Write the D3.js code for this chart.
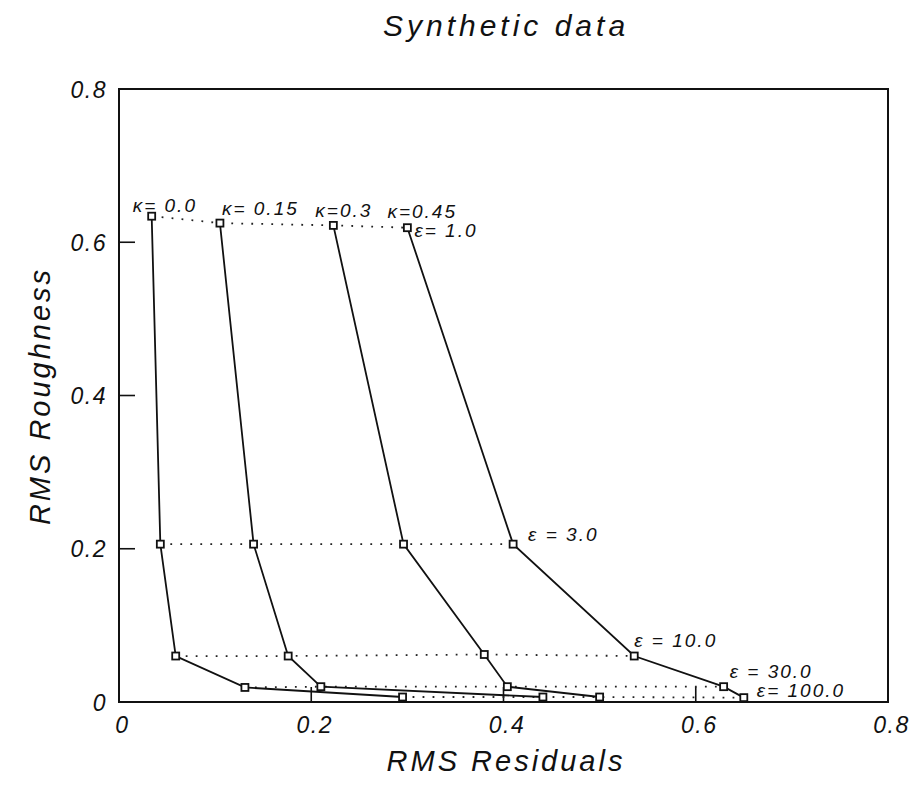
<!DOCTYPE html>
<html>
<head>
<meta charset="utf-8">
<script src="https://cdn.jsdelivr.net/npm/d3@7"></script>
<style>
  body { margin: 0; background: #fff; }
  text { font-family: "Liberation Sans", Arial, sans-serif; font-style: italic; fill: #111; }
</style>
</head>
<body>
<svg id="chart" width="913" height="786"></svg>
<script>
// values
const kappaValues = [0.0, 0.15, 0.3, 0.45];
const epsilonValues = [1, 3, 10, 30, 100];

const rmsResidualsK000 = [0.034, 0.043, 0.059, 0.131, 0.295];
const rmsRoughnessK000 = [0.634, 0.206, 0.060, 0.019, 0.0065];
const rmsResidualsK015 = [0.105, 0.140, 0.176, 0.210, 0.441];
const rmsRoughnessK015 = [0.625, 0.206, 0.060, 0.020, 0.0065];
const rmsResidualsK030 = [0.223, 0.296, 0.380, 0.404, 0.500];
const rmsRoughnessK030 = [0.622, 0.206, 0.062, 0.020, 0.0065];
const rmsResidualsK045 = [0.300, 0.410, 0.536, 0.629, 0.650];
const rmsRoughnessK045 = [0.619, 0.206, 0.060, 0.020, 0.0057];

const kappaLabels = ['\u03ba= 0.0', '\u03ba= 0.15', '\u03ba=0.3', '\u03ba=0.45'];
const epsilonLabels = ['\u03b5= 1.0', '\u03b5 = 3.0', '\u03b5 = 10.0', '\u03b5 = 30.0', '\u03b5= 100.0'];

const xTicks = [0, 0.2, 0.4, 0.6, 0.8];
const yTicks = [0, 0.2, 0.4, 0.6, 0.8];

const titleText = 'Synthetic data';
const xLabelText = 'RMS Residuals';
const yLabelText = 'RMS Roughness';

function BuildCurves() {
  var residuals = [rmsResidualsK000, rmsResidualsK015, rmsResidualsK030, rmsResidualsK045];
  var roughness = [rmsRoughnessK000, rmsRoughnessK015, rmsRoughnessK030, rmsRoughnessK045];

  return kappaValues.map(function(kappa, k) {
    return {
      kappa: kappa,
      points: epsilonValues.map(function(eps, e) {
        return { eps: eps, x: residuals[k][e], y: roughness[k][e] };
      })
    };
  });
}

function FormatTick(d) {
  return d === 0 ? '0' : d3.format('.1f')(d);
}

var curves = BuildCurves();

var width = 913, height = 786;
var margin = { top: 89, right: 25, bottom: 84, left: 119 };

var svg = d3.select('#chart');

var x = d3.scaleLinear().domain([0, 0.8]).range([margin.left, width - margin.right]);
var y = d3.scaleLinear().domain([0, 0.8]).range([height - margin.bottom, margin.top]);

// frame
svg.append('rect')
    .attr('x', x(0))
    .attr('y', y(0.8))
    .attr('width', x(0.8) - x(0))
    .attr('height', y(0) - y(0.8))
    .attr('fill', 'none')
    .attr('stroke', '#111')
    .attr('stroke-width', 2);

// inward ticks on bottom and left, labels outside
var xAxis = d3.axisBottom(x).tickValues(xTicks).tickSize(0).tickPadding(0).tickFormat(FormatTick);
var gx = svg.append('g')
    .attr('transform', 'translate(0,' + y(0) + ')')
    .call(xAxis);
gx.select('.domain').remove();
gx.selectAll('.tick text')
    .attr('dy', null)
    .attr('y', 31)
    .attr('x', 3)
    .style('font-size', '23px')
    .style('font-family', '"Liberation Sans", Arial, sans-serif')
    .style('letter-spacing', '1.5px');

var yAxis = d3.axisLeft(y).tickValues(yTicks).tickSize(0).tickPadding(0).tickFormat(FormatTick);
var gy = svg.append('g')
    .attr('transform', 'translate(' + x(0) + ',0)')
    .call(yAxis);
gy.select('.domain').remove();
gy.selectAll('.tick text')
    .attr('dy', '0.35em')
    .attr('x', -12)
    .style('font-size', '23px')
    .style('font-family', '"Liberation Sans", Arial, sans-serif')
    .style('letter-spacing', '1.5px');

svg.append('g')
  .selectAll('line')
  .data(xTicks.filter((d) => d > 0 && d < 0.8))
  .join('line')
    .attr('x1', (d) => x(d))
    .attr('x2', (d) => x(d))
    .attr('y1', y(0))
    .attr('y2', y(0) - 15)
    .attr('stroke', '#111')
    .attr('stroke-width', 1.6);

svg.append('g')
  .selectAll('line')
  .data(yTicks.filter((d) => d > 0 && d < 0.8))
  .join('line')
    .attr('x1', x(0))
    .attr('x2', x(0) + 16)
    .attr('y1', (d) => y(d))
    .attr('y2', (d) => y(d))
    .attr('stroke', '#111')
    .attr('stroke-width', 1.6);

var line = d3.line()
    .x((d) => x(d.x))
    .y((d) => y(d.y));

// dotted lines joining equal epsilon across kappa
var epsRows = epsilonValues.map(function(eps, e) {
  return curves.map((c) => c.points[e]);
});

svg.append('g')
  .selectAll('path')
  .data(epsRows)
  .join('path')
    .attr('d', line)
    .attr('fill', 'none')
    .attr('stroke', '#222')
    .attr('stroke-width', 1.8)
    .attr('stroke-dasharray', '1.8,8.2');

// solid curves per kappa
svg.append('g')
  .selectAll('path')
  .data(curves)
  .join('path')
    .attr('d', (d) => line(d.points))
    .attr('fill', 'none')
    .attr('stroke', '#111')
    .attr('stroke-width', 1.8);

// square markers
var sq = 7;
svg.append('g')
  .selectAll('g')
  .data(curves)
  .join('g')
  .selectAll('rect')
  .data((d) => d.points)
  .join('rect')
    .attr('x', (d) => x(d.x) - sq / 2)
    .attr('y', (d) => y(d.y) - sq / 2)
    .attr('width', sq)
    .attr('height', sq)
    .attr('fill', '#fff')
    .attr('stroke', '#111')
    .attr('stroke-width', 1.8);

// kappa labels above the first point of each curve
var kappaOffsets = [[-19, -4], [2, -8], [-18, -8], [-20, -10]];
svg.append('g')
  .selectAll('text')
  .data(curves)
  .join('text')
    .attr('x', (d, i) => x(d.points[0].x) + kappaOffsets[i][0])
    .attr('y', (d, i) => y(d.points[0].y) + kappaOffsets[i][1])
    .style('font-size', '19px')
    .style('letter-spacing', '2px')
    .text((d, i) => kappaLabels[i]);

// epsilon labels beside the last curve
var lastCurve = curves[curves.length - 1];
var epsOffsets = [[7, 9], [15, -3], [0, -9], [6, -9], [13, -1]];
svg.append('g')
  .selectAll('text')
  .data(lastCurve.points)
  .join('text')
    .attr('x', (d, i) => x(d.x) + epsOffsets[i][0])
    .attr('y', (d, i) => y(d.y) + epsOffsets[i][1])
    .style('font-size', '19px')
    .style('letter-spacing', '2px')
    .text((d, i) => epsilonLabels[i]);

// titles
svg.append('text')
    .attr('x', 506)
    .attr('y', 36)
    .attr('text-anchor', 'middle')
    .style('font-size', '30px')
    .style('letter-spacing', '4px')
    .text(titleText);

svg.append('text')
    .attr('x', 506)
    .attr('y', 771)
    .attr('text-anchor', 'middle')
    .style('font-size', '29px')
    .style('letter-spacing', '3px')
    .text(xLabelText);

svg.append('text')
    .attr('transform', 'translate(50,396) rotate(-90)')
    .attr('text-anchor', 'middle')
    .style('font-size', '29px')
    .style('letter-spacing', '3px')
    .text(yLabelText);
</script>
</body>
</html>
